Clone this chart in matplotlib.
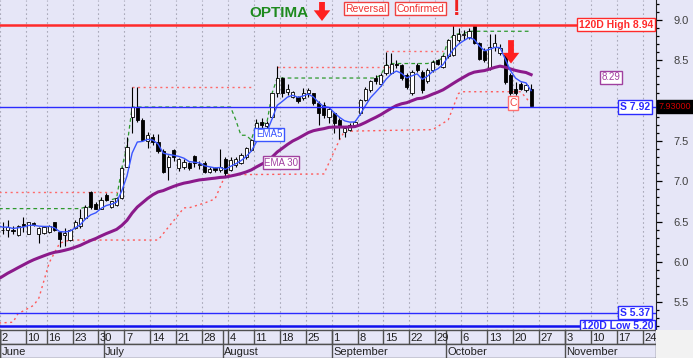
import matplotlib
matplotlib.use("Agg")
import matplotlib.pyplot as plt
import matplotlib.transforms as mtransforms
from matplotlib.patches import Rectangle, FancyArrowPatch
import numpy as np
import pandas as pd

plt.rcParams['font.family'] = ['Liberation Sans', 'DejaVu Sans']

# daily candles, trading-day index 0 = 2 June
opens = [6.40, 6.40, 6.40, 6.33, 6.47, 6.35, 6.48, 6.35, 6.36, 6.37,
         6.49, 6.37, 6.33, 6.27, 6.42, 6.44, 6.54, 6.87, 6.72, 6.66,
         6.83, 6.68, 6.70, 6.79, 7.18, 7.80, 7.92, 7.76, 7.50, 7.55,
         7.49, 7.37, 7.17, 7.39, 7.16, 7.18, 7.22, 7.31, 7.20, 7.22,
         7.11, 7.16, 7.14, 7.28, 7.14, 7.20, 7.22, 7.30, 7.39, 7.53,
         7.73, 7.68, 7.80, 8.09, 8.28, 8.11, 8.05, 8.05, 8.03, 8.10,
         8.09, 7.97, 7.94, 7.80, 7.84, 7.76, 7.61, 7.64, 7.70, 7.84,
         8.01, 8.13, 8.28, 8.20, 8.34, 8.34, 8.46, 8.44, 8.32, 8.09,
         8.44, 8.36, 8.24, 8.38, 8.50, 8.42, 8.55, 8.57, 8.75, 8.81,
         8.79, 8.92, 8.71, 8.61, 8.40, 8.67, 8.59, 8.57, 8.32, 8.15,
         8.21, 8.13, 8.15]
highs = [6.49, 6.52, 6.45, 6.46, 6.56, 6.50, 6.50, 6.43, 6.45, 6.46,
         6.50, 6.38, 6.42, 6.41, 6.52, 6.66, 6.70, 6.88, 6.74, 6.80,
         6.85, 6.76, 6.80, 7.17, 7.55, 8.17, 8.17, 7.78, 7.61, 7.58,
         7.58, 7.40, 7.33, 7.40, 7.29, 7.27, 7.24, 7.32, 7.25, 7.25,
         7.17, 7.18, 7.40, 7.30, 7.30, 7.30, 7.35, 7.43, 7.52, 7.77,
         7.78, 7.75, 8.10, 8.43, 8.29, 8.21, 8.12, 8.06, 8.16, 8.16,
         8.10, 8.00, 7.98, 7.92, 7.86, 7.78, 7.68, 7.72, 7.76, 8.02,
         8.17, 8.26, 8.32, 8.34, 8.60, 8.59, 8.50, 8.46, 8.34, 8.38,
         8.47, 8.38, 8.40, 8.50, 8.52, 8.57, 8.77, 8.94, 8.90, 8.88,
         8.90, 8.94, 8.73, 8.65, 8.83, 8.83, 8.70, 8.58, 8.34, 8.23,
         8.23, 8.21, 8.21]
lows = [6.34, 6.31, 6.35, 6.32, 6.37, 6.34, 6.44, 6.23, 6.35, 6.36,
        6.38, 6.18, 6.19, 6.26, 6.41, 6.42, 6.53, 6.66, 6.65, 6.65,
        6.76, 6.67, 6.69, 6.78, 7.17, 7.60, 7.73, 7.50, 7.41, 7.45,
        7.35, 7.10, 7.02, 7.25, 7.13, 7.15, 7.14, 7.18, 7.15, 7.10,
        7.10, 7.12, 7.12, 7.07, 7.13, 7.18, 7.21, 7.28, 7.38, 7.52,
        7.66, 7.60, 7.78, 8.05, 8.05, 8.07, 8.03, 7.97, 8.01, 8.05,
        7.95, 7.70, 7.79, 7.72, 7.60, 7.52, 7.55, 7.62, 7.68, 7.82,
        7.99, 8.11, 8.20, 8.18, 8.32, 8.33, 8.40, 8.26, 8.15, 8.07,
        8.36, 8.10, 8.22, 8.36, 8.44, 8.40, 8.53, 8.55, 8.73, 8.75,
        8.76, 8.70, 8.50, 8.48, 8.38, 8.62, 8.57, 8.21, 8.07, 8.07,
        8.13, 8.11, 7.93]
closes = [6.39, 6.43, 6.38, 6.44, 6.45, 6.49, 6.46, 6.42, 6.43, 6.44,
          6.39, 6.28, 6.36, 6.40, 6.50, 6.54, 6.68, 6.68, 6.66, 6.77,
          6.77, 6.75, 6.79, 7.16, 7.43, 7.92, 7.76, 7.51, 7.57, 7.49,
          7.37, 7.12, 7.30, 7.30, 7.28, 7.24, 7.16, 7.22, 7.21, 7.12,
          7.15, 7.14, 7.18, 7.10, 7.26, 7.28, 7.33, 7.41, 7.51, 7.72,
          7.70, 7.72, 8.09, 8.28, 8.09, 8.15, 8.11, 7.99, 8.09, 8.13,
          7.97, 7.84, 7.82, 7.90, 7.72, 7.68, 7.66, 7.70, 7.74, 8.01,
          8.15, 8.24, 8.24, 8.32, 8.44, 8.46, 8.44, 8.28, 8.17, 8.36,
          8.38, 8.13, 8.38, 8.48, 8.46, 8.55, 8.75, 8.81, 8.83, 8.83,
          8.86, 8.71, 8.52, 8.50, 8.67, 8.71, 8.65, 8.23, 8.09, 8.09,
          8.15, 8.19, 7.93]

# values carried in from before June (read at left edge)
ema5_seed = 6.45
ema30_seed = 5.78
prior_high_close = 6.66

# lower trailing stop (red dotted)
stop_idx = [-1, 2, 3, 4, 6, 7, 9, 11, 13, 30, 35, 36, 39, 41, 43, 62, 63, 65, 66, 83, 86, 88, 89, 100, 102]
stop_val = [5.24, 5.25, 5.36, 5.39, 5.46, 5.55, 5.99, 6.23, 6.27, 6.27, 6.67, 6.67, 6.73, 6.78, 7.08,
            7.09, 7.23, 7.51, 7.62, 7.64, 7.76, 8.09, 8.11, 8.11, 7.96]

# upper resistance segments (pink dotted)
res_start = [-1, 25, 53, 74, 95]
res_end = [22, 48, 75, 85, 101]
res_val = [6.87, 8.17, 8.42, 8.61, 5.16]

levels = {"120D High": 8.94, "S": 7.92, "S2": 5.37, "120D Low": 5.20}

week_idx = [0, 5, 9, 14, 19, 24, 29, 34, 39, 44, 49, 54, 59, 64, 69, 74, 79, 84, 89, 94, 99, 104, 109, 114, 119, 124]
week_lbl = ['2', '10', '16', '23', '30', '7', '14', '21', '28', '4', '11', '18', '25', '1', '8', '15',
            '22', '29', '6', '13', '20', '27', '3', '10', '17', '24']
month_idx = [0, 20, 43, 64, 86, 109]
month_lbl = ['June', 'July', 'August', 'September', 'October', 'November']


def ema(vals, span, seed):
    a = 2.0 / (span + 1)
    e = seed
    out = [seed]
    for v in vals:
        e = e + a * (v - e)
        out.append(e)
    return out


BG = '#E6E6F7'
RED = '#FF2A2A'
BLUE = '#2B2BFF'
PURPLE = '#8B1A8B'

W, H = 693, 358
fig = plt.figure(figsize=(W / 100, H / 100), dpi=100)
fig.patch.set_facecolor(BG)
ax = fig.add_axes([0, 28 / H, 656 / W, 330 / H])
ax.set_facecolor(BG)
ax.set_xlim(-0.5, 126.1)
ax.set_ylim(5.154, 9.248)

n = len(closes)

for k in week_idx:
    ax.axvline(k - 0.5, color='#A8A8B8', lw=0.8, ls=(0, (1.5, 2.5)), zorder=0)

# candles
for i in range(n):
    o, h, l, c = opens[i], highs[i], lows[i], closes[i]
    ax.vlines(i, l, h, color='black', lw=0.8, zorder=3)
    fc = 'white' if c >= o else 'black'
    ax.add_patch(Rectangle((i - 0.31, min(o, c)), 0.62, max(abs(c - o), 0.008),
                           facecolor=fc, edgecolor='black', lw=0.6, zorder=4))

# indicators
e5 = ema(closes, 5, ema5_seed)
e30 = ema(closes, 30, ema30_seed)
ax.plot(np.arange(-1, n), e30, color=PURPLE, lw=2.2, zorder=5)
ax.plot(np.arange(-1, n), e5, color='#3A55FF', lw=1.0, zorder=5)

hh = pd.Series([prior_high_close] * 20 + closes).rolling(20).max().iloc[19:].values
ax.plot(np.arange(-1, n), hh, color='#2E9A2E', lw=0.9, ls=(0, (3, 2.5)), zorder=2)

ax.plot(stop_idx, stop_val, color='#FF5A5A', lw=1.0, ls=(0, (1.5, 2.5)), zorder=2)
for s, e, v in zip(res_start, res_end, res_val):
    ax.plot([s, e], [v, v], color='#FF6A6A', lw=1.0, ls=(0, (1.5, 2.5)), zorder=2)

# support / resistance levels
ax.axhline(levels["120D High"], color=RED, lw=1.8, zorder=6)
ax.axhline(levels["S"], color=BLUE, lw=1.0, zorder=6)
ax.axhline(levels["S2"], color=BLUE, lw=1.0, zorder=6)
ax.axhline(levels["120D Low"], color='#1010EE', lw=1.8, zorder=6)


def px(x):
    return x / 656.0


bx = dict(boxstyle='square,pad=0.15', fc='white', lw=1.0)
tr = mtransforms.blended_transform_factory(ax.transAxes, ax.transData)
ax.text(px(653), 8.94, '120D High 8.94', transform=tr, ha='right', va='center', fontsize=7.5,
        fontweight='bold', color=RED, bbox=dict(bx, ec=RED), zorder=8)
ax.text(px(650), 7.92, 'S 7.92', transform=tr, ha='right', va='center', fontsize=7.5,
        fontweight='bold', color=BLUE, bbox=dict(bx, ec=BLUE), zorder=8)
ax.text(px(650), 5.37, 'S 5.37', transform=tr, ha='right', va='center', fontsize=7.5,
        fontweight='bold', color=BLUE, bbox=dict(bx, ec=BLUE), zorder=8)
ax.text(px(653), 5.20, '120D Low 5.20', transform=tr, ha='right', va='center', fontsize=7.5,
        fontweight='bold', color=BLUE, bbox=dict(bx, ec=BLUE), zorder=8)
ax.text(1.004, closes[-1], '7.93000', transform=tr, ha='left', va='center', fontsize=6.5,
        color='#D00000', bbox=dict(boxstyle='square,pad=0.2', fc='black', ec='black'),
        zorder=9, clip_on=False)

ax.text(px(269), 7.58, 'EMA5', transform=tr, ha='center', va='center', fontsize=7,
        color='#3A55FF', bbox=dict(bx, ec='#3A55FF'), zorder=8)
ax.text(px(281), 7.23, 'EMA 30', transform=tr, ha='center', va='center', fontsize=7,
        color='#A040A0', bbox=dict(bx, ec='#A040A0'), zorder=8)
ax.text(px(611), 8.29, '8.29', transform=tr, ha='center', va='center', fontsize=7,
        color='#A040A0', bbox=dict(bx, ec='#A040A0'), zorder=8)
ax.text(px(513), 7.97, 'C', transform=tr, ha='center', va='center', fontsize=7.5,
        color='#F04040', bbox=dict(bx, ec='#FF7070'), zorder=8)

arrow_style = 'simple,head_width=0.85,head_length=0.55,tail_width=0.3'
ax.add_patch(FancyArrowPatch((px(511), 8.75), (px(511), 8.46), transform=tr,
                             arrowstyle=arrow_style, mutation_scale=14, shrinkA=0, shrinkB=0,
                             color='#FF2020', lw=0, zorder=9))

# right price axis
for s in ['left', 'top', 'bottom']:
    ax.spines[s].set_visible(False)
ax.spines['right'].set_color('#202020')
ax.yaxis.tick_right()
yt = np.arange(5.5, 9.01, 0.5)
ax.set_yticks(yt)
ax.set_yticklabels(['' if abs(v - 8.0) < 1e-6 else '%.1f' % v for v in yt])
ax.set_yticks(np.arange(5.2, 9.21, 0.1), minor=True)
ax.tick_params(axis='y', which='major', length=4.5, width=0.9, pad=8, labelsize=8, labelcolor='#404040')
ax.tick_params(axis='y', which='minor', length=2.2, width=0.9)
ax.set_xticks([])

# top signal annotations
fig.text(279 / W, 1 - 13 / H, 'OPTIMA', ha='center', va='center', fontsize=11, fontweight='bold',
         color='#1E8A1E')
fig.patches.append(FancyArrowPatch(
    (322 / W, 1 - 2 / H), (322 / W, 1 - 21 / H), transform=fig.transFigure,
    arrowstyle=arrow_style, mutation_scale=14, shrinkA=0, shrinkB=0,
    color='#FF2020', lw=0))
fig.text(366 / W, 1 - 8.5 / H, 'Reversal', ha='center', va='center', fontsize=7.5, color='#F03030',
         bbox=dict(bx, ec='#F04040'))
fig.text(420 / W, 1 - 8.5 / H, 'Confirmed', ha='center', va='center', fontsize=7.5, color='#F03030',
         bbox=dict(bx, ec='#F04040'))
fig.text(457 / W, 1 - 9.5 / H, '!', ha='center', va='center', fontsize=16, fontweight='bold',
         color='#F02020')

# date rows
axd = fig.add_axes([0, 14 / H, 656 / W, 14 / H])
axm = fig.add_axes([0, 0, 656 / W, 14 / H])
for a in (axd, axm):
    a.set_xlim(ax.get_xlim())
    a.set_ylim(0, 1)
    a.set_facecolor(BG)
    a.set_xticks([])
    a.set_yticks([])
    for s in a.spines.values():
        s.set_color('#505050')
        s.set_linewidth(1)
for k, t in zip(week_idx, week_lbl):
    axd.axvline(k - 0.5, color='#505050', lw=1)
    axd.text(k - 0.2, 0.45, t, ha='left', va='center', fontsize=8, color='#202020')
for k in month_idx:
    axd.axvline(k - 0.5, color='#505050', lw=1)
for k, t in zip(month_idx, month_lbl):
    axm.axvline(k - 0.5, color='#505050', lw=1)
    axm.text(k - 0.2, 0.45, t, ha='left', va='center', fontsize=8, color='#202020')

fig.patches.append(Rectangle((656 / W, 0), 37 / W, 28 / H, transform=fig.transFigure,
                             facecolor='#F2F2F2', edgecolor='none'))

fig.savefig('out.png', dpi=100, facecolor=fig.get_facecolor())
